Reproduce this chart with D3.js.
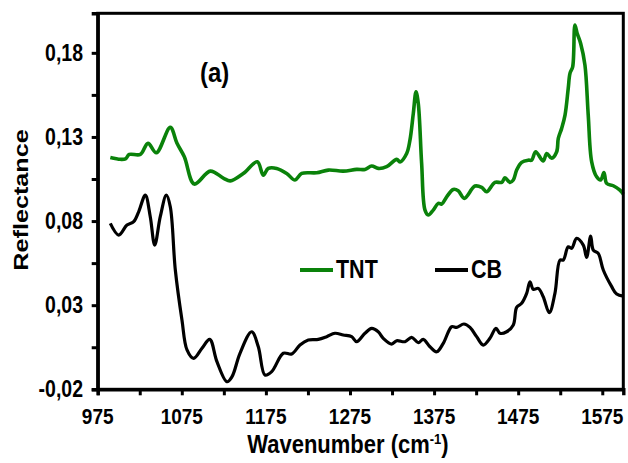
<!DOCTYPE html>
<html>
<head>
<meta charset="utf-8">
<script src="https://cdn.jsdelivr.net/npm/d3@7/dist/d3.min.js"></script>
<style>
  html, body { margin: 0; padding: 0; background: #fff; }
  svg { display: block; }
  text { font-family: "Liberation Sans", Arial, sans-serif; font-weight: bold; fill: #000; }
</style>
</head>
<body>
<svg id="chart" width="628" height="463"></svg>
<script>
// Reflectance spectra: [wavenumber (cm-1), reflectance]
const tntSpectrum = [
  [990,0.1178],[1002,0.1167],[1008,0.1170],[1012.6,0.1196],[1025.7,0.1196],[1034.8,0.1262],
  [1044.7,0.1206],[1061.3,0.1357],[1069.3,0.1262],[1078,0.1182],[1089.9,0.1020],[1108.9,0.1097],
  [1124.8,0.1054],[1132.7,0.1039],[1148.1,0.1083],[1164.8,0.1152],[1171.9,0.1073],[1177.8,0.1113],
  [1187.8,0.1113],[1199.7,0.1083],[1209.6,0.1044],[1217.6,0.1083],[1235.4,0.1087],[1249.2,0.1103],
  [1267,0.1097],[1282.9,0.1107],[1292.8,0.1107],[1300.8,0.1127],[1308.6,0.1113],[1318.6,0.1123],
  [1330.5,0.1167],[1334.4,0.1152],[1342.4,0.1202],[1346.3,0.1281],[1350.3,0.1440],[1353.5,0.1568],
  [1356.2,0.1499],[1360.2,0.1143],[1364.2,0.0865],[1368.1,0.0836],[1374,0.0865],[1380,0.0905],
  [1384,0.0901],[1390,0.0944],[1397.8,0.0988],[1403.7,0.0980],[1410.9,0.0935],[1423.6,0.1008],
  [1431.6,0.1000],[1437.5,0.0974],[1447.4,0.1030],[1455.4,0.1030],[1459.3,0.1057],[1465.2,0.1030],
  [1469.2,0.1044],[1473.2,0.1103],[1479.1,0.1149],[1487,0.1162],[1491,0.1162],[1495.8,0.1212],
  [1504.8,0.1157],[1508.9,0.1202],[1514.8,0.1173],[1520.8,0.1212],[1522.7,0.1291],[1526.7,0.1351],
  [1530.7,0.1430],[1534.5,0.1588],[1536.6,0.1678],[1539.8,0.1717],[1542.5,0.1965],[1545.2,0.1915],
  [1549.3,0.1856],[1554.4,0.1727],[1558.3,0.1430],[1562.4,0.1152],[1568.3,0.1063],[1573.1,0.1044],
  [1577,0.1089],[1580.2,0.1024],[1588.1,0.1010],[1596,0.0984],[1600,0.0960]
];

const cbSpectrum = [
  [990,0.0786],[1000,0.0717],[1009.8,0.0776],[1017.8,0.0796],[1023.7,0.0855],[1031.6,0.0954],
  [1037.5,0.0826],[1042.8,0.0657],[1049.4,0.0826],[1056.6,0.0954],[1061.3,0.0885],[1067.3,0.0509],
  [1075.2,0.0212],[1081.2,0.0034],[1089.1,-0.0016],[1099,0.0044],[1108.2,0.0097],[1116.8,-0.0036],
  [1128.7,-0.0155],[1134.7,-0.0125],[1144.2,0.0014],[1158.1,0.0142],[1166,0.0053],[1173.9,-0.0115],
  [1181.9,-0.0095],[1195.7,0.0014],[1205.7,0.0010],[1215.5,0.0063],[1225.4,0.0093],[1237.3,0.0097],
  [1247.3,0.0113],[1257.1,0.0133],[1267,0.0123],[1277,0.0113],[1283,0.0083],[1292.8,0.0133],
  [1300.8,0.0162],[1308.6,0.0142],[1314.6,0.0103],[1324.6,0.0069],[1330.5,0.0089],[1340.4,0.0083],
  [1348.3,0.0109],[1356.2,0.0077],[1362.1,0.0097],[1370.1,0.0053],[1378.1,0.0023],[1385.9,0.0073],
  [1395.9,0.0172],[1401.9,0.0168],[1410.5,0.0188],[1417.7,0.0168],[1425.6,0.0113],[1433.5,0.0063],
  [1441.4,0.0103],[1448.6,0.0162],[1453.3,0.0133],[1461.3,0.0142],[1469.2,0.0182],[1473.2,0.0287],
  [1479.1,0.0311],[1485.1,0.0370],[1489,0.0439],[1493,0.0394],[1498.9,0.0400],[1504.8,0.0350],
  [1512,0.0255],[1518.7,0.0370],[1524.7,0.0568],[1528.6,0.0568],[1534.5,0.0647],[1538.6,0.0638],
  [1544.5,0.0697],[1552.4,0.0657],[1556.4,0.0584],[1561.2,0.0711],[1564.3,0.0628],[1570.2,0.0608],
  [1576.2,0.0509],[1586.2,0.0410],[1592.1,0.0366],[1600,0.0354]
];

const xTickValues = [975, 1075, 1175, 1275, 1375, 1475, 1575];
const xMinorTicks = [1025, 1125, 1225, 1325, 1425, 1525];
const yTickValues = [-0.02, 0.03, 0.08, 0.13, 0.18];
const yMinorTicks = [0.005, 0.055, 0.105, 0.155];
const seriesNames = ["TNT", "CB"];
const seriesColors = ["#0a820a", "#000000"];

const svg = d3.select("#chart");
const plot = { left: 97.7, right: 623.3, top: 13.3, bottom: 389.3 };

const x = d3.scaleLinear().domain([975, 1600]).range([plot.left, plot.right]);
const y = d3.scaleLinear().domain([-0.02, 0.2035]).range([plot.bottom, plot.top]);

const commaFmt = d3.formatLocale({ decimal: ",", thousands: ".", grouping: [3], currency: ["", ""], minus: "-" }).format(".2f");

// stretched label helper (text is drawn taller than its natural proportions)
const SY = 1.18;
function label(px, py, str, size, anchor) {
  const g = svg.append("g").attr("transform", `translate(${px},${py}) scale(1,${SY})`);
  return g.append("text").attr("text-anchor", anchor || "start").style("font-size", size + "px").text(str);
}

// spectra
const line = d3.line().x(d => x(d[0])).y(d => y(d[1])).curve(d3.curveCatmullRom.alpha(0.5));
svg.append("path").datum(cbSpectrum).attr("d", line)
  .attr("fill", "none").attr("stroke", seriesColors[1]).attr("stroke-width", 3.2).attr("stroke-linejoin", "round");
svg.append("path").datum(tntSpectrum).attr("d", line)
  .attr("fill", "none").attr("stroke", seriesColors[0]).attr("stroke-width", 3.6).attr("stroke-linejoin", "round");

// frame
svg.append("rect").attr("x", plot.left).attr("y", plot.top)
  .attr("width", plot.right - plot.left).attr("height", plot.bottom - plot.top)
  .attr("fill", "none").attr("stroke", "#000").attr("stroke-width", 3);

// axes ticks
const xAxis = svg.append("g").attr("transform", `translate(0,${plot.bottom})`)
  .call(d3.axisBottom(x).tickValues(xTickValues.concat(xMinorTicks)).tickSize(6).tickFormat(""));
const yAxis = svg.append("g").attr("transform", `translate(${plot.left},0)`)
  .call(d3.axisLeft(y).tickValues(yTickValues.concat(yMinorTicks)).tickSize(6).tickFormat(""));
[xAxis, yAxis].forEach(a => {
  a.select(".domain").attr("stroke", "#000").attr("stroke-width", 3.4);
  a.selectAll(".tick line").attr("stroke", "#000").attr("stroke-width", 3);
});

// tick labels
xTickValues.forEach(v => label(x(v), 424, String(v), 19, "middle"));
yTickValues.forEach(v => label(83, y(v) + 8, commaFmt(v), 19.5, "end"));

// axis titles
const xt = label(348, 453, "", 22, "middle");
xt.append("tspan").text("Wavenumber (cm");
xt.append("tspan").attr("dy", -8).style("font-size", "13px").text("-1");
xt.append("tspan").attr("dy", 8).text(")");

svg.append("g").attr("transform", "translate(28,200) rotate(-90) scale(1.2,1)")
  .append("text").attr("text-anchor", "middle").style("font-size", "21px").text("Reflectance");

// panel tag
label(200, 82, "(a)", 24, "start");

// legend
const legendX = [300, 435];
seriesNames.forEach((name, i) => {
  svg.append("line").attr("x1", legendX[i]).attr("x2", legendX[i] + 33)
    .attr("y1", 270).attr("y2", 270).attr("stroke", seriesColors[i]).attr("stroke-width", 4);
  label(legendX[i] + 36, 278, name, 21.5, "start");
});
</script>
</body>
</html>
